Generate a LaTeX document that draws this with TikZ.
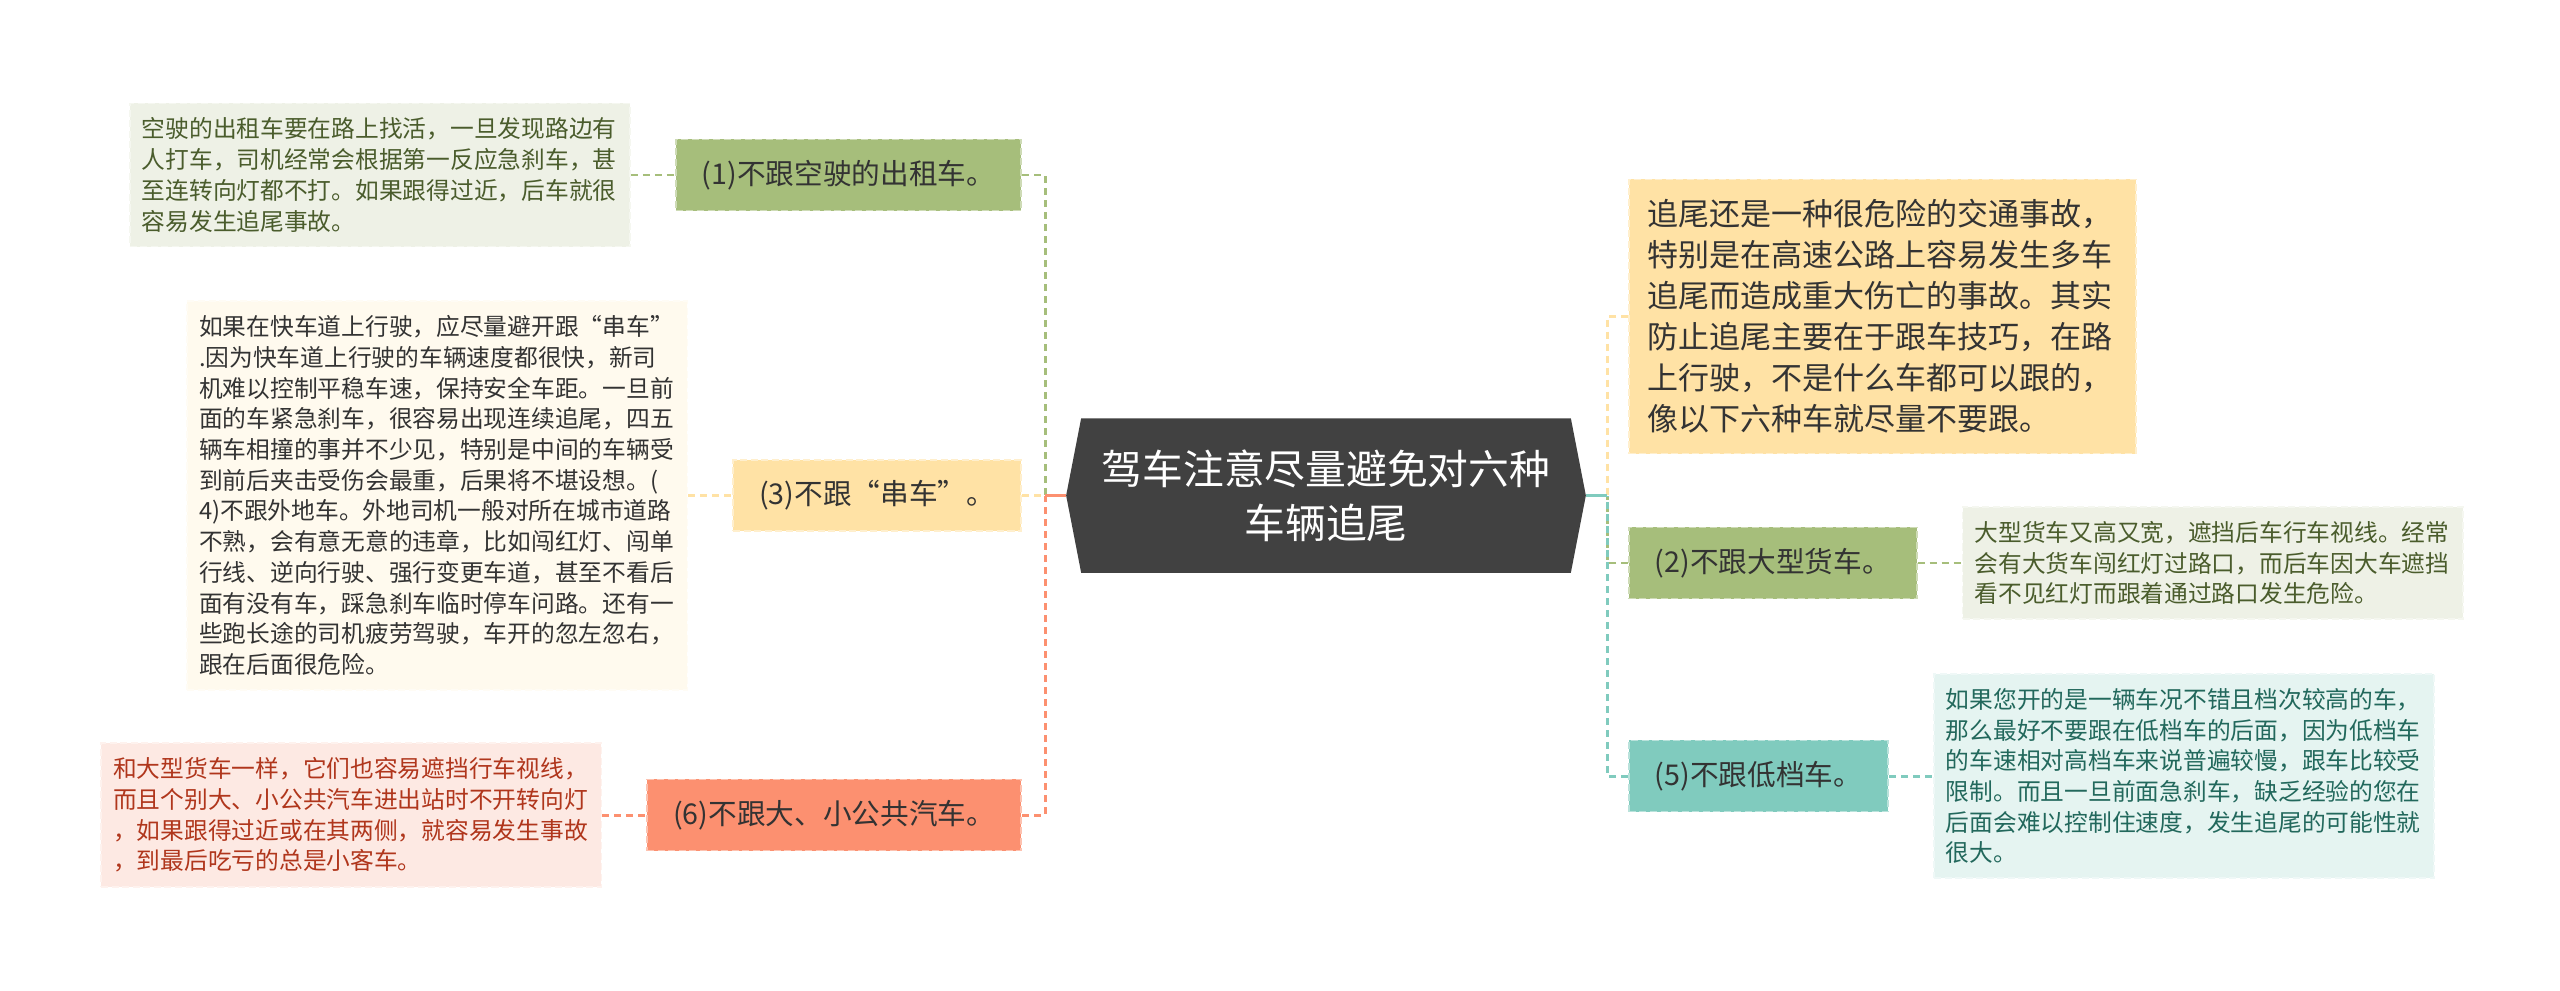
\documentclass[tikz,border=0pt]{standalone}
\usepackage{fontspec}
\setmainfont{Noto Sans CJK SC}
\usetikzlibrary{positioning,backgrounds}

\definecolor{hubgray}{HTML}{414141}
\definecolor{olivebr}{HTML}{A6BE7B}
\definecolor{sandbr}{HTML}{FFE2A5}
\definecolor{salmonbr}{HTML}{FC9070}
\definecolor{tealbr}{HTML}{80CBBE}
\definecolor{olivebg}{HTML}{EEF1E6}
\definecolor{creambg}{HTML}{FFFAEE}
\definecolor{pinkbg}{HTML}{FDE9E3}
\definecolor{tealbg}{HTML}{E5F4F1}
\definecolor{olivetx}{HTML}{4A5C2C}
\definecolor{redtx}{HTML}{B0361C}
\definecolor{tealtx}{HTML}{22685C}

\begin{document}
\begin{tikzpicture}[
    x=0.01cm, y=-0.01cm,
    hub/.style={rectangle, minimum width=4.88cm, minimum height=1.53cm, align=center, text=white, font=\fontsize{11.6}{15.4}\selectfont},
    branch/.style={rectangle, fill=#1, draw=#1!55!white, dash pattern=on 2pt off 1pt, line width=0.5pt, minimum height=0.71cm, inner xsep=0.26cm, inner ysep=0.05cm, text=black!80, font=\fontsize{8.15}{10}\selectfont},
    intro/.style={rectangle, fill=sandbr, draw=sandbr!55!white, dash pattern=on 2pt off 1pt, line width=0.5pt, text width=4.7cm, align=left, inner xsep=0.185cm, inner ysep=0.2cm, text=black!80, font=\fontsize{8.82}{11.67}\selectfont},
    note/.style={rectangle, fill=#1, draw=#1!60!white, dash pattern=on 2pt off 1pt, line width=0.5pt, text width=4.76cm, align=left, inner xsep=0.12cm, inner ysep=0.145cm, font=\fontsize{6.75}{8.73}\selectfont},
    link/.style={draw=#1, line width=0.85pt, dash pattern=on 0.07cm off 0.05cm}
]

\useasboundingbox (0,0) rectangle (2560,991);

% ====================
%      Center
% ====================
\node[hub] (hub) at (1326,495.5) {驾车注意尽量避免对六种\\车辆追尾};
\coordinate (tipL) at ([xshift=-0.15cm]hub.west);
\coordinate (tipR) at ([xshift=0.15cm]hub.east);
\begin{scope}[on background layer]
\fill[white] (0,0) rectangle (2560,991);
\fill[hubgray] (hub.north west) -- (hub.north east) -- (tipR) -- (hub.south east) -- (hub.south west) -- (tipL) -- cycle;
\end{scope}

% Junctions
\coordinate (jl) at (1045,495.5);
\coordinate (jr) at (1607,495.5);

% ====================
%      Left side
% ====================
\node[branch=olivebr, anchor=east] (taxi) at (1022,175) {(1)不跟空驶的出租车。};
\node[branch=sandbr, anchor=east] (string) at (1022,495.5) {(3)不跟“串车”。};
\node[branch=salmonbr, anchor=east] (bus) at (1022,815) {(6)不跟大、小公共汽车。};

\node[note=olivebg, text=olivetx, left=0.44cm of taxi] (taxi_note) {空驶的出租车要在路上找活，一旦发现路边有\\
人打车，司机经常会根据第一反应急刹车，甚\\
至连转向灯都不打。如果跟得过近，后车就很\\
容易发生追尾事故。};
\node[note=creambg, text=black!80, left=0.44cm of string] (string_note) {如果在快车道上行驶，应尽量避开跟“串车”\\
.因为快车道上行驶的车辆速度都很快，新司\\
机难以控制平稳车速，保持安全车距。一旦前\\
面的车紧急刹车，很容易出现连续追尾，四五\\
辆车相撞的事并不少见，特别是中间的车辆受\\
到前后夹击受伤会最重，后果将不堪设想。(\\
4)不跟外地车。外地司机一般对所在城市道路\\
不熟，会有意无意的违章，比如闯红灯、闯单\\
行线、逆向行驶、强行变更车道，甚至不看后\\
面有没有车，踩急刹车临时停车问路。还有一\\
些跑长途的司机疲劳驾驶，车开的忽左忽右，\\
跟在后面很危险。};
\node[note=pinkbg, text=redtx, left=0.44cm of bus] (bus_note) {和大型货车一样，它们也容易遮挡行车视线，\\
而且个别大、小公共汽车进出站时不开转向灯\\
，如果跟得过近或在其两侧，就容易发生事故\\
，到最后吃亏的总是小客车。};

% Connections
\draw[link=olivebr] (taxi.east) -| (jl);
\draw[link=sandbr] (string.east) -- (jl);
\draw[link=salmonbr] (bus.east) -| (jl);
\draw[salmonbr, line width=0.85pt] (jl) -- (tipL);
\draw[link=olivebr] (taxi_note.east) -- (taxi.west);
\draw[link=sandbr] (string_note.east) -- (string.west);
\draw[link=salmonbr] (bus_note.east) -- (bus.west);

% ====================
%      Right side
% ====================
\node[intro, anchor=west] (lead) at (1628,316.5) {追尾还是一种很危险的交通事故，\\
特别是在高速公路上容易发生多车\\
追尾而造成重大伤亡的事故。其实\\
防止追尾主要在于跟车技巧，在路\\
上行驶，不是什么车都可以跟的，\\
像以下六种车就尽量不要跟。};
\node[branch=olivebr, anchor=west] (truck) at (1628,563) {(2)不跟大型货车。};
\node[branch=tealbr, anchor=west] (lowgear) at (1628,776) {(5)不跟低档车。};

\node[note=olivebg, text=olivetx, right=0.44cm of truck] (truck_note) {大型货车又高又宽，遮挡后车行车视线。经常\\
会有大货车闯红灯过路口，而后车因大车遮挡\\
看不见红灯而跟着通过路口发生危险。};
\node[note=tealbg, text=tealtx, right=0.44cm of lowgear] (lowgear_note) {如果您开的是一辆车况不错且档次较高的车，\\
那么最好不要跟在低档车的后面，因为低档车\\
的车速相对高档车来说普遍较慢，跟车比较受\\
限制。而且一旦前面急刹车，缺乏经验的您在\\
后面会难以控制住速度，发生追尾的可能性就\\
很大。};

% Connections
\draw[link=sandbr] (lead.west) -| (jr);
\draw[link=olivebr] (truck.west) -| (jr);
\draw[link=tealbr] (lowgear.west) -| (jr);
\draw[tealbr, line width=0.85pt] (jr) -- (tipR);
\draw[link=olivebr] (truck.east) -- (truck_note.west);
\draw[link=tealbr] (lowgear.east) -- (lowgear_note.west);

\end{tikzpicture}
\end{document}
